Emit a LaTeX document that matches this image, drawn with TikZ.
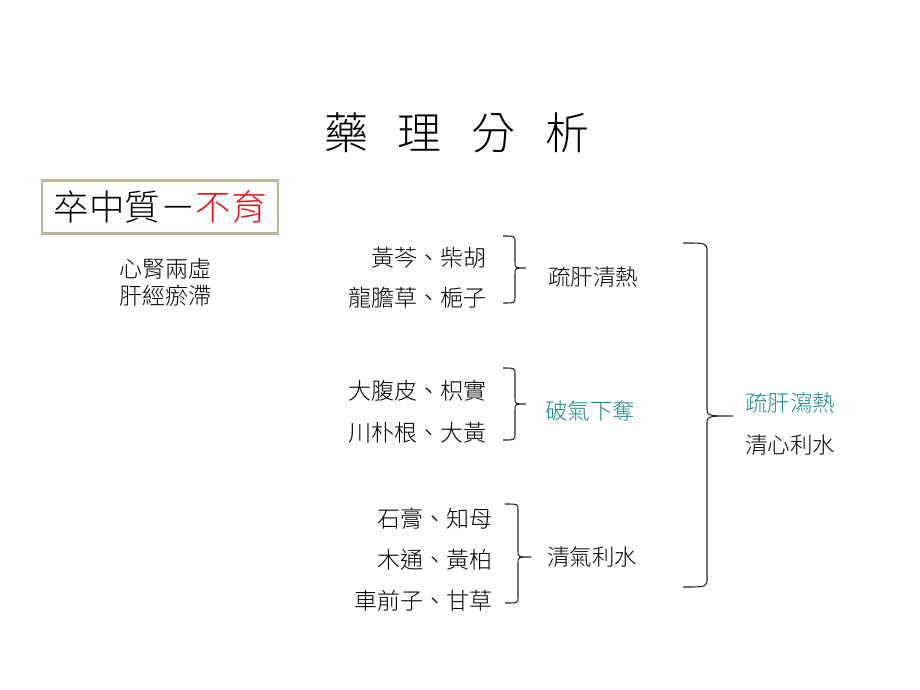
\documentclass[tikz,border=0pt]{standalone}
\usepackage{fontspec}
\setmainfont{Noto Sans CJK TC}[UprightFont=* Light]
\definecolor{tealtxt}{HTML}{1A8A8A}
\definecolor{boxline}{HTML}{BDB59A}
\definecolor{redtxt}{HTML}{E8141B}
\tikzset{
  herb/.style={anchor=east, inner sep=0pt, font=\fontsize{23}{23}\selectfont},
  effect/.style={anchor=west, inner sep=0pt, font=\fontsize{22.5}{22.5}\selectfont},
  note/.style={inner sep=0pt, font=\fontsize{23}{23}\selectfont},
  bracestyle/.style={line width=1.1pt, black!85},
}
\newcommand{\mybrace}[8]{%
  \coordinate (#8top) at (#1,#4);
  \coordinate (#8tip) at (#3,#5);
  \coordinate (#8bot) at (#1,#6);
  \draw[bracestyle] (#8top) .. controls (#2,#4) .. (#2,#4+#7) -- (#2,#5-#7)
    .. controls (#2,#5) .. (#8tip) .. controls (#2,#5) .. (#2,#5+#7)
    -- (#2,#6-#7) .. controls (#2,#6) .. (#8bot);}
\begin{document}
\begin{tikzpicture}[x=1pt,y=-1pt]
\useasboundingbox[fill=white] (0,0) rectangle (920,690);
% title
\node[inner sep=0pt, font=\fontsize{44}{44}\selectfont] (title) at (457,133)
  {藥\hspace{30pt}理\hspace{30pt}分\hspace{30pt}析};
% box
\node[draw=boxline, line width=2.2pt, fill=white, minimum width=236pt, minimum height=53pt,
  inner sep=0pt, font=\fontsize{35.5}{35.5}\selectfont] (box) at (160,207)
  {卒中質－{\color{redtxt}不育}};
\node[note] (n1) at (165,269) {心腎兩虛};
\node[note] (n2) at (165,296) {肝經瘀滯};
% group 1
\node[herb] (h1) at (487,258) {黃芩、柴胡};
\node[herb] (h2) at (487,298) {龍膽草、梔子};
\mybrace{503}{515}{526}{236}{268}{303}{6}{b1}
\node[effect] (e1) at (548,277) {疏肝清熱};
% group 2
\node[herb] (h3) at (487,391) {大腹皮、枳實};
\node[herb] (h4) at (487,433) {川朴根、大黃};
\mybrace{503}{515}{526}{368}{404}{440}{6}{b2}
\node[effect, text=tealtxt] (e2) at (545,411) {破氣下奪};
% group 3
\node[herb] (h5) at (493,519) {石膏、知母};
\node[herb] (h6) at (493,560) {木通、黃柏};
\node[herb] (h7) at (493,601) {車前子、甘草};
\mybrace{505}{518}{531}{504}{557}{603}{6}{b3}
\node[effect] (e3) at (547,557) {清氣利水};
% big brace
\mybrace{683}{707}{733}{243}{416}{587}{9}{bb}
\node[effect, text=tealtxt] (f1) at (745,403) {疏肝瀉熱};
\node[effect] (f2) at (745,445) {清心利水};
\end{tikzpicture}
\end{document}
